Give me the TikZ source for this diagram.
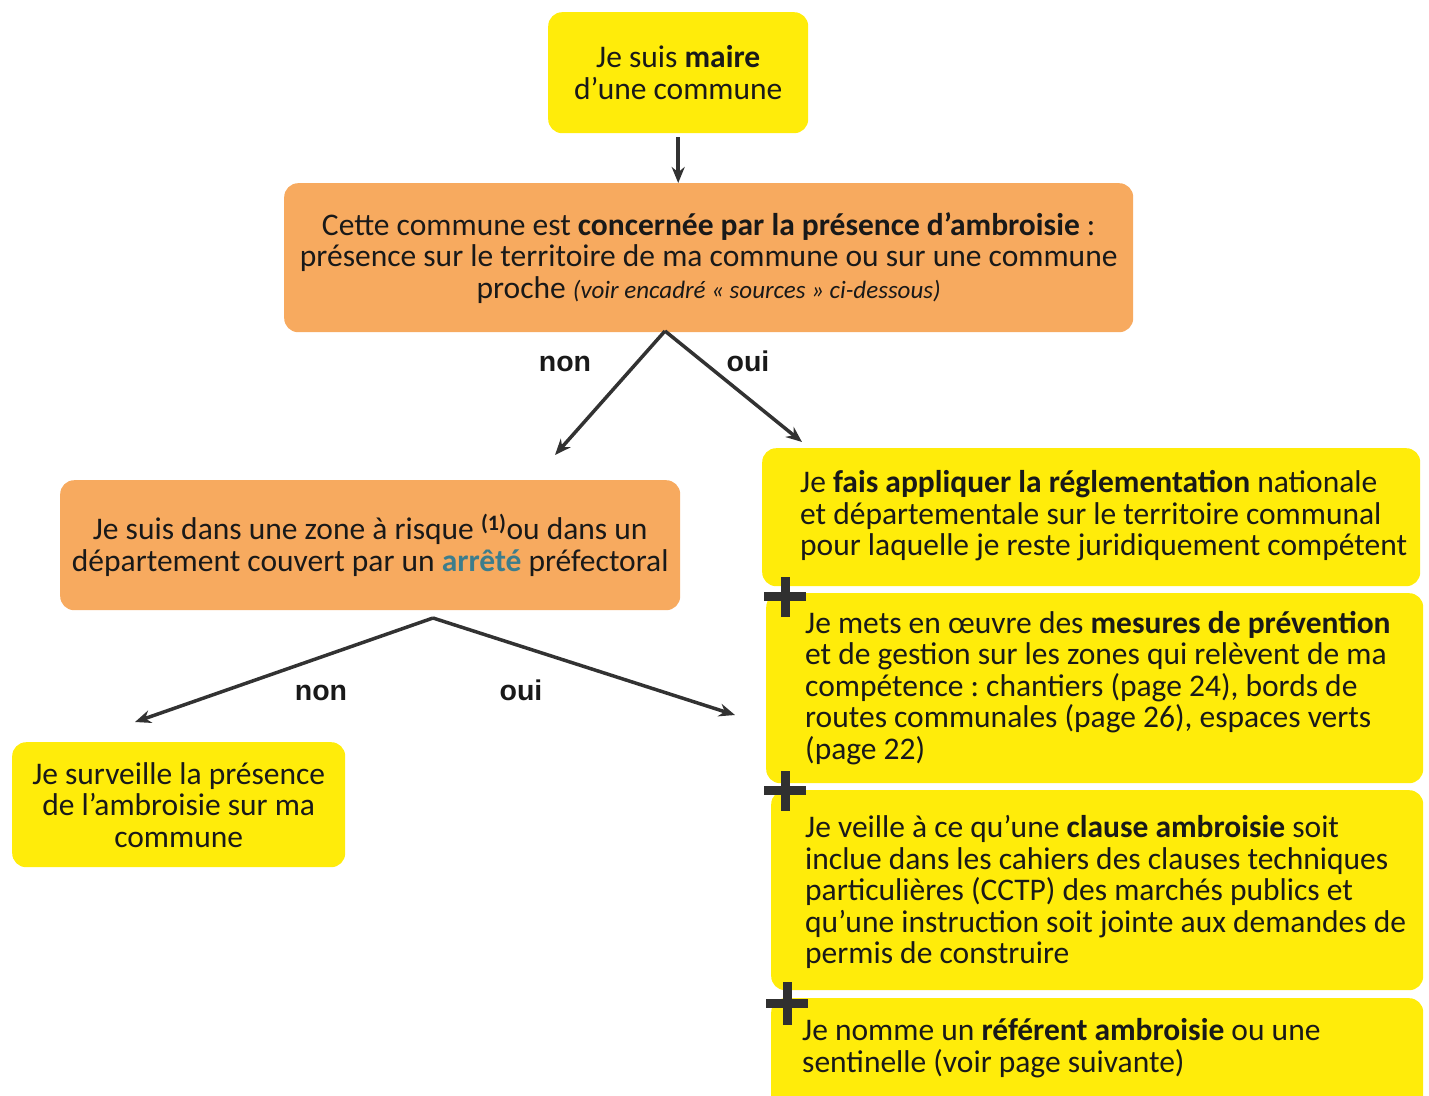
\documentclass[tikz,border=0pt]{standalone}
\usepackage{fontspec}
\setmainfont{Carlito}
\newfontfamily\labfont{Liberation Sans}
\usetikzlibrary{arrows.meta}
\frenchspacing
\definecolor{ylw}{RGB}{255,236,10}
\definecolor{org}{RGB}{247,170,95}
\definecolor{ink}{RGB}{25,25,25}
\definecolor{arr}{RGB}{50,50,50}
\definecolor{tealc}{RGB}{60,125,140}
\tikzset{
  box/.style={rounded corners=14, minimum width=#1},
  ybox/.style={box=#1, fill=ylw, draw=none},
  obox/.style={box=#1, fill=org, draw=none},
  txt/.style={font=\fontsize{31.5}{31.5}\selectfont, text=ink, inner sep=0},
  lab/.style={font=\labfont\bfseries\fontsize{28.5}{30}\selectfont, text=ink},
  conn/.style={draw=arr, line width=3.5, -{Stealth[length=16pt,width=13pt]}},
  plus/.style={draw=ink!90, line width=9}
}
\begin{document}
\begin{tikzpicture}[x=1pt,y=-1pt]
\useasboundingbox (0,0) rectangle (1429,1095);

% top box
\node[ybox=260, minimum height=121, anchor=north west, txt, align=center] (top) at (548,12)
  {Je suis \textbf{maire}\\d’une commune};

% orange box 1
\node[obox=849, minimum height=149, anchor=north west, txt, align=center] (q1) at (284,183)
  {Cette commune est \textbf{concernée par la présence d’ambroisie} :\\
   présence sur le territoire de ma commune ou sur une commune\\
   proche {\fontsize{25}{31}\selectfont\itshape (voir encadré « sources » ci-dessous)}};

% orange box 2
\node[obox=620, minimum height=130, anchor=north west, txt, align=center] (q2) at (60,480)
  {Je suis dans une zone à risque \textsuperscript{\textbf{(1)}}ou dans un\\
   département couvert par un \textcolor{tealc}{\textbf{arrêté}} préfectoral};

% left yellow box
\node[ybox=333, minimum height=125, anchor=north west, txt, align=center] (surv) at (12,742)
  {Je surveille la présence\\de l'ambroisie sur ma\\commune};

% right boxes
\node[ybox=658, minimum height=138, anchor=north west] (ra) at (762,448) {};
\node[ybox=657, minimum height=190, anchor=north west] (rb) at (766,593) {};
\node[ybox=652, minimum height=200, anchor=north west] (rc) at (771,790) {};
\node[ybox=652, minimum height=115, anchor=north west] (rd) at (771,998) {};

\node[txt, align=left, anchor=west] (ta) at (800,516)
  {Je \textbf{fais appliquer la réglementation} nationale\\
   et départementale sur le territoire communal\\
   pour laquelle je reste juridiquement compétent};
\node[txt, align=left, anchor=west] (tb) at (805,688)
  {Je mets en œuvre des \textbf{mesures de prévention}\\
   et de gestion sur les zones qui relèvent de ma\\
   compétence : chantiers (page 24), bords de\\
   routes communales (page 26), espaces verts\\
   (page 22)};
\node[txt, align=left, anchor=west] (tc) at (805,892)
  {Je veille à ce qu’une \textbf{clause ambroisie} soit\\
   inclue dans les cahiers des clauses techniques\\
   particulières (CCTP) des marchés publics et\\
   qu’une instruction soit jointe aux demandes de\\
   permis de construire};
\node[txt, align=left, anchor=west] (td) at (802,1048)
  {Je nomme un \textbf{référent ambroisie} ou une\\
   sentinelle (voir page suivante)};

% plus signs
\draw[plus] (785,577) -- (785,617) (764,596) -- (806,596);
\draw[plus] (785,771) -- (785,811) (764,790) -- (806,790);
\draw[plus] (787,982) -- (787,1025) (766,1003) -- (808,1003);

% connectors
\draw[conn] ([yshift=-4pt]top.south) -- (top.south |- q1.north);

\coordinate (a1) at (665,331);
\coordinate (e1n) at (555,455);
\coordinate (e1o) at (802,442);
\draw[conn] (a1) -- (e1n);
\draw[conn] (a1) -- (e1o);
\node[lab] (non1) at (565,364) {non};
\node[lab] (oui1) at (748,361) {oui};

\coordinate (a2) at (433,618);
\coordinate (e2n) at (135,722);
\coordinate (e2o) at (735,715);
\draw[conn] (a2) -- (e2n);
\draw[conn] (a2) -- (e2o);
\node[lab] (non2) at (321,693) {non};
\node[lab] (oui2) at (521,690) {oui};
\end{tikzpicture}
\end{document}
